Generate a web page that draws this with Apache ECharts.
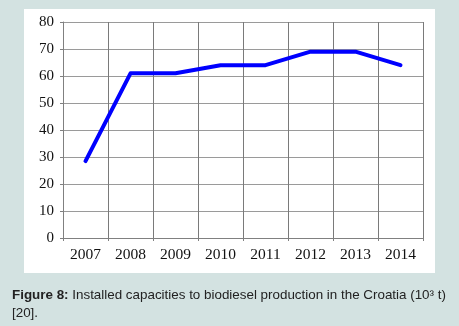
<!DOCTYPE html>
<html><head><meta charset="utf-8">
<script src="https://cdn.jsdelivr.net/npm/echarts@6/dist/echarts.min.js"></script>
<style>html,body{margin:0;padding:0;background:#d3e2e1;}#c{width:459px;height:326px;}</style>
</head><body><div id="c"></div>
<script>
var years = ['2007','2008','2009','2010','2011','2012','2013','2014'];
var capacity = [28.5, 61, 61, 64, 64, 69, 69, 64];
var yTicks = {min: 0, max: 80, interval: 10};
var captionBold = 'Figure 8:';
var captionText = ' Installed capacities to biodiesel production in the Croatia (10\u00b3 t)';
var captionLine2 = '[20].';

var chart = echarts.init(document.getElementById('c'), null, {renderer: 'canvas'});
chart.setOption({
  backgroundColor: '#d3e2e1',
  animation: false,
  graphic: [
    {type: 'rect', z: -10, shape: {x: 24, y: 9, width: 411, height: 264}, style: {fill: '#ffffff'}},
    {type: 'text', left: 12, top: 286, style: {
      text: '{b|' + captionBold + '}' + captionText + '\n' + captionLine2,
      font: '13.4px "Liberation Sans", Arial, sans-serif', fill: '#222', lineHeight: 18,
      rich: {b: {fontWeight: 'bold', fontSize: 13.4, fontFamily: '"Liberation Sans", Arial, sans-serif', fill: '#222'}}
    }}
  ],
  grid: {left: 63, top: 22, right: 36, bottom: 88},
  xAxis: {
    type: 'category', data: years, boundaryGap: true,
    axisLine: {show: true, lineStyle: {color: '#808080', width: 1}},
    axisTick: {show: true, length: 3, lineStyle: {color: '#808080'}},
    splitLine: {show: true, lineStyle: {color: '#7a7a7a', width: 1}},
    axisLabel: {color: '#111', fontFamily: '"Liberation Serif", "Times New Roman", serif', fontSize: 15.5, margin: 9}
  },
  yAxis: {
    type: 'value', min: yTicks.min, max: yTicks.max, interval: yTicks.interval,
    axisLine: {show: true, lineStyle: {color: '#808080', width: 1}},
    axisTick: {show: true, length: 3, lineStyle: {color: '#808080'}},
    splitLine: {show: true, lineStyle: {color: '#9a9a9a', width: 1}},
    axisLabel: {color: '#111', fontFamily: '"Liberation Serif", "Times New Roman", serif', fontSize: 15, margin: 9}
  },
  series: [{
    type: 'line', data: capacity, symbol: 'none', smooth: false,
    lineStyle: {color: '#0000ff', width: 4, join: 'round', cap: 'round'}
  }]
});
</script></body></html>
